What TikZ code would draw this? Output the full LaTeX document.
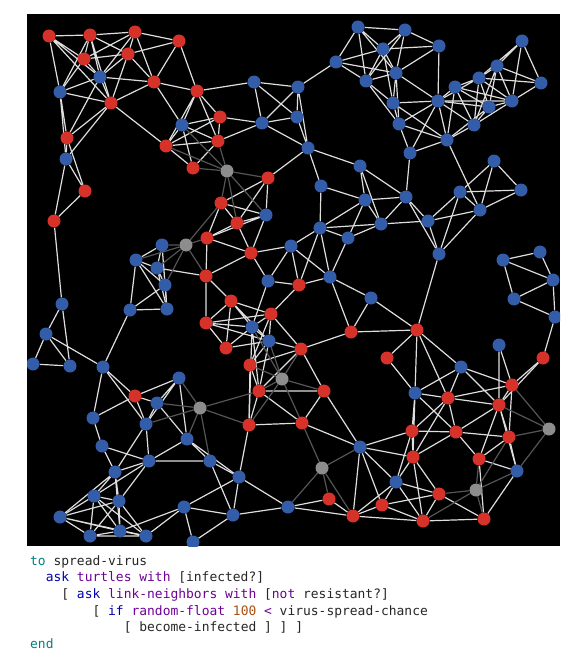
\documentclass[tikz,border=0pt]{standalone}
\usepackage{fontspec}
\newfontfamily\codefont{DejaVu Sans Mono}
\usetikzlibrary{backgrounds}
\definecolor{netred}{RGB}{215,50,41}
\definecolor{netblue}{RGB}{52,93,169}
\definecolor{netgray}{RGB}{141,141,141}
\definecolor{linkcol}{RGB}{222,222,222}
\definecolor{reslinkcol}{RGB}{85,85,85}
\definecolor{nlteal}{RGB}{0,128,128}
\definecolor{nlblue}{RGB}{0,0,170}
\definecolor{nlpurple}{RGB}{110,0,150}
\definecolor{nlorange}{RGB}{170,80,20}
\newcommand{\nlkey}[1]{\textcolor{nlteal}{#1}}
\newcommand{\nlcmd}[1]{\textcolor{nlblue}{#1}}
\newcommand{\nlrep}[1]{\textcolor{nlpurple}{#1}}
\newcommand{\nlnum}[1]{\textcolor{nlorange}{#1}}
\begin{document}
\begin{tikzpicture}[x=1bp,y=-1bp,
		turtle/.style={circle,inner sep=0,minimum size=13bp},
		infected/.style={turtle,fill=netred},
		susceptible/.style={turtle,fill=netblue},
		resistant/.style={turtle,fill=netgray},
		netlink/.style={draw=linkcol,line width=1.2bp},
		reslink/.style={draw=reslinkcol,line width=1.2bp},
		code/.style={anchor=base west,inner sep=0,text=black!85,font=\codefont\fontsize{13}{16}\selectfont}]
		\useasboundingbox (0, 0) rectangle (571, 661);
		\begin{scope}
		\clip (27, 14) rectangle (560, 546);
		% turtles, top left
		\node (A1) at (49, 36) [infected] {};
		\node (A2) at (90, 35) [infected] {};
		\node (A3) at (135, 32) [infected] {};
		\node (A4) at (179, 41) [infected] {};
		\node (A5) at (84, 59) [infected] {};
		\node (A6) at (128, 54) [infected] {};
		\node (A7) at (100, 77) [susceptible] {};
		\node (A8) at (60, 92) [susceptible] {};
		\node (A9) at (154, 82) [infected] {};
		\node (A10) at (197, 91) [infected] {};
		\node (A11) at (111, 103) [infected] {};
		\node (A12) at (67, 138) [infected] {};
		\node (A13) at (66, 159) [susceptible] {};
		\node (A14) at (85, 191) [infected] {};
		\node (A15) at (54, 221) [infected] {};
		\node (A16) at (182, 125) [susceptible] {};
		\node (A17) at (220, 117) [infected] {};
		\node (A18) at (218, 141) [infected] {};
		\node (A19) at (166, 146) [infected] {};
		\node (A20) at (193, 168) [infected] {};
		\node (A21) at (227, 171) [resistant] {};
		\node (A22) at (268, 178) [infected] {};
		\node (A23) at (221, 203) [infected] {};
		\node (A24) at (266, 215) [susceptible] {};
		\node (A25) at (237, 223) [infected] {};
		\node (A26) at (207, 238) [infected] {};
		\node (A27) at (251, 253) [infected] {};
		\node (A28) at (186, 245) [resistant] {};
		\node (A29) at (162, 245) [susceptible] {};
		\node (A30) at (136, 260) [susceptible] {};
		\node (A31) at (157, 268) [susceptible] {};
		\node (A32) at (165, 285) [susceptible] {};
		\node (A33) at (206, 276) [infected] {};
		\node (A34) at (291, 246) [susceptible] {};
		\node (A35) at (268, 281) [susceptible] {};
		\node (A36) at (254, 82) [susceptible] {};
		\node (A37) at (262, 123) [susceptible] {};
		\node (A38) at (298, 87) [susceptible] {};
		\node (A39) at (297, 117) [susceptible] {};
		\node (A40) at (308, 148) [susceptible] {};
		% turtles, top right
		\node (B1) at (358, 27) [susceptible] {};
		\node (B2) at (405, 30) [susceptible] {};
		\node (B3) at (383, 49) [susceptible] {};
		\node (B4) at (439, 46) [susceptible] {};
		\node (B5) at (336, 62) [susceptible] {};
		\node (B6) at (396, 73) [susceptible] {};
		\node (B7) at (366, 81) [susceptible] {};
		\node (B8) at (522, 41) [susceptible] {};
		\node (B9) at (497, 66) [susceptible] {};
		\node (B10) at (479, 78) [susceptible] {};
		\node (B11) at (455, 87) [susceptible] {};
		\node (B12) at (541, 83) [susceptible] {};
		\node (B13) at (512, 101) [susceptible] {};
		\node (B14) at (489, 107) [susceptible] {};
		\node (B15) at (438, 101) [susceptible] {};
		\node (B16) at (393, 103) [susceptible] {};
		\node (B17) at (399, 124) [susceptible] {};
		\node (B18) at (474, 125) [susceptible] {};
		\node (B19) at (447, 140) [susceptible] {};
		\node (B20) at (410, 153) [susceptible] {};
		\node (B21) at (360, 166) [susceptible] {};
		\node (B22) at (494, 161) [susceptible] {};
		\node (B23) at (321, 186) [susceptible] {};
		\node (B24) at (521, 190) [susceptible] {};
		\node (B25) at (460, 192) [susceptible] {};
		\node (B26) at (365, 200) [susceptible] {};
		\node (B27) at (406, 197) [susceptible] {};
		\node (B28) at (480, 210) [susceptible] {};
		\node (B29) at (381, 224) [susceptible] {};
		\node (B30) at (428, 221) [susceptible] {};
		\node (B31) at (320, 228) [susceptible] {};
		\node (B32) at (348, 238) [susceptible] {};
		\node (B33) at (439, 254) [susceptible] {};
		\node (B34) at (330, 277) [susceptible] {};
		\node (B35) at (503, 260) [susceptible] {};
		\node (B36) at (540, 252) [susceptible] {};
		\node (B37) at (553, 280) [susceptible] {};
		% turtles, bottom left
		\node (C1) at (62, 304) [susceptible] {};
		\node (C2) at (46, 334) [susceptible] {};
		\node (C3) at (33, 364) [susceptible] {};
		\node (C4) at (70, 366) [susceptible] {};
		\node (C5) at (130, 310) [susceptible] {};
		\node (C6) at (167, 309) [susceptible] {};
		\node (C7) at (103, 367) [susceptible] {};
		\node (C8) at (179, 378) [susceptible] {};
		\node (C9) at (135, 396) [infected] {};
		\node (C10) at (157, 403) [susceptible] {};
		\node (C11) at (200, 408) [resistant] {};
		\node (C12) at (146, 424) [susceptible] {};
		\node (C13) at (93, 418) [susceptible] {};
		\node (C14) at (187, 439) [susceptible] {};
		\node (C15) at (102, 446) [susceptible] {};
		\node (C16) at (149, 461) [susceptible] {};
		\node (C17) at (115, 472) [susceptible] {};
		\node (C18) at (210, 461) [susceptible] {};
		\node (C19) at (239, 477) [susceptible] {};
		\node (C20) at (94, 496) [susceptible] {};
		\node (C21) at (119, 501) [susceptible] {};
		\node (C22) at (60, 517) [susceptible] {};
		\node (C23) at (90, 536) [susceptible] {};
		\node (C24) at (120, 531) [susceptible] {};
		\node (C25) at (146, 536) [susceptible] {};
		\node (C26) at (184, 507) [susceptible] {};
		\node (C27) at (233, 515) [susceptible] {};
		\node (C28) at (288, 507) [susceptible] {};
		\node (C29) at (193, 542) [susceptible] {};
		% turtles, middle
		\node (D1) at (231, 301) [infected] {};
		\node (D2) at (271, 314) [infected] {};
		\node (D3) at (206, 323) [infected] {};
		\node (D4) at (252, 327) [susceptible] {};
		\node (D5) at (269, 341) [susceptible] {};
		\node (D6) at (226, 348) [infected] {};
		\node (D7) at (250, 365) [infected] {};
		\node (D8) at (259, 391) [infected] {};
		\node (D9) at (282, 379) [resistant] {};
		\node (D10) at (249, 425) [infected] {};
		\node (D11) at (299, 285) [infected] {};
		\node (D12) at (301, 349) [infected] {};
		\node (D13) at (324, 391) [infected] {};
		\node (D14) at (302, 423) [infected] {};
		% turtles, bottom right
		\node (E1) at (351, 332) [infected] {};
		\node (E2) at (371, 298) [susceptible] {};
		\node (E3) at (417, 330) [infected] {};
		\node (E4) at (387, 358) [infected] {};
		\node (E5) at (415, 393) [susceptible] {};
		\node (E6) at (448, 398) [infected] {};
		\node (E7) at (461, 367) [susceptible] {};
		\node (E8) at (512, 385) [infected] {};
		\node (E9) at (499, 405) [infected] {};
		\node (E10) at (543, 358) [infected] {};
		\node (E11) at (514, 299) [susceptible] {};
		\node (E12) at (555, 317) [susceptible] {};
		\node (E13) at (499, 345) [susceptible] {};
		\node (E14) at (412, 431) [infected] {};
		\node (E15) at (456, 432) [infected] {};
		\node (E16) at (509, 437) [infected] {};
		\node (E17) at (549, 429) [resistant] {};
		\node (E18) at (413, 457) [infected] {};
		\node (E19) at (479, 459) [infected] {};
		\node (E20) at (517, 471) [susceptible] {};
		\node (E21) at (360, 447) [susceptible] {};
		\node (E22) at (322, 468) [resistant] {};
		\node (E23) at (396, 482) [susceptible] {};
		\node (E24) at (439, 494) [infected] {};
		\node (E25) at (476, 490) [resistant] {};
		\node (E26) at (329, 499) [infected] {};
		\node (E27) at (382, 505) [infected] {};
		\node (E28) at (353, 516) [infected] {};
		\node (E29) at (423, 521) [infected] {};
		\node (E30) at (484, 519) [infected] {};
		\end{scope}
		\begin{scope}[on background layer]
		\fill[black] (27, 14) rectangle (560, 546);
		% links
		\draw[netlink] (A1)--(A2) (A1)--(A7) (A1)--(A11) (A1)--(A8) (A1)--(A5);
		\draw[netlink] (A2)--(A3) (A2)--(A5) (A2)--(A6) (A2)--(A7) (A2)--(A11) (A2)--(A8);
		\draw[netlink] (A3)--(A4) (A3)--(A5) (A3)--(A6) (A3)--(A7) (A3)--(A9);
		\draw[netlink] (A4)--(A6) (A4)--(A9) (A4)--(A10);
		\draw[netlink] (A5)--(A6) (A5)--(A7) (A5)--(A8);
		\draw[netlink] (A6)--(A9) (A6)--(A11) (A6)--(A7);
		\draw[netlink] (A7)--(A8) (A7)--(A9) (A7)--(A11) (A7)--(A12);
		\draw[netlink] (A8)--(A11) (A8)--(A12) (A8)--(A13);
		\draw[netlink] (A9)--(A10) (A9)--(A11) (A9)--(A16);
		\draw[netlink] (A10)--(A16) (A10)--(A19) (A10)--(A17) (A10)--(A18) (A10)--(A36);
		\draw[netlink] (A11)--(A19) (A11)--(A12) (A11)--(A13);
		\draw[netlink] (A12)--(A13) (A12)--(A14) (A13)--(A14) (A13)--(A15) (A14)--(A15) (A15)--(C1);
		\draw[netlink] (A16)--(A17) (A16)--(A18) (A16)--(A19) (A16)--(A20);
		\draw[netlink] (A17)--(A37) (A17)--(A18) (A17)--(A19);
		\draw[netlink] (A18)--(A19) (A18)--(A20) (A18)--(A37) (A19)--(A20);
		\draw[netlink] (A22)--(A40) (A22)--(A23) (A22)--(A24) (A22)--(A25);
		\draw[netlink] (A23)--(A24) (A23)--(A25) (A23)--(A26);
		\draw[netlink] (A24)--(A25) (A24)--(A26) (A24)--(A27);
		\draw[netlink] (A25)--(A26) (A25)--(A27);
		\draw[netlink] (A26)--(A27) (A26)--(A33);
		\draw[netlink] (A27)--(A33) (A27)--(A34) (A27)--(A35);
		\draw[netlink] (A29)--(A30) (A29)--(A31) (A29)--(A32) (A29)--(C6);
		\draw[netlink] (A30)--(A31) (A30)--(A32) (A30)--(C5) (A30)--(C6);
		\draw[netlink] (A31)--(A32) (A31)--(A33) (A31)--(C6);
		\draw[netlink] (A32)--(C5) (A32)--(C6);
		\draw[netlink] (A33)--(D1) (A33)--(D3);
		\draw[netlink] (A34)--(B31) (A34)--(D11) (A34)--(B34) (A34)--(A35);
		\draw[netlink] (A35)--(D11) (A35)--(D4);
		\draw[netlink] (A36)--(A37) (A36)--(A38) (A36)--(A39);
		\draw[netlink] (A37)--(A38) (A37)--(A39) (A37)--(A40);
		\draw[netlink] (A38)--(A39) (A38)--(A40) (A38)--(B5) (A39)--(A40);
		\draw[netlink] (A40)--(B21) (A40)--(B23);
		\draw[netlink] (B1)--(B2) (B1)--(B3) (B1)--(B5) (B1)--(B6) (B1)--(B7);
		\draw[netlink] (B2)--(B3) (B2)--(B4) (B2)--(B6) (B2)--(B7);
		\draw[netlink] (B3)--(B4) (B3)--(B5) (B3)--(B6) (B3)--(B7) (B3)--(B16);
		\draw[netlink] (B4)--(B6) (B4)--(B15);
		\draw[netlink] (B5)--(B6) (B5)--(B7);
		\draw[netlink] (B6)--(B7) (B6)--(B16) (B6)--(B17) (B6)--(B15);
		\draw[netlink] (B7)--(B16) (B7)--(B17);
		\draw[netlink] (B8)--(B9) (B8)--(B10) (B8)--(B12) (B8)--(B13);
		\draw[netlink] (B9)--(B10) (B9)--(B12) (B9)--(B13) (B9)--(B14) (B9)--(B18);
		\draw[netlink] (B10)--(B11) (B10)--(B15) (B10)--(B12) (B10)--(B14) (B10)--(B18) (B10)--(B13);
		\draw[netlink] (B11)--(B15) (B11)--(B18) (B11)--(B13) (B11)--(B14) (B11)--(B19);
		\draw[netlink] (B12)--(B13) (B13)--(B14) (B13)--(B15) (B13)--(B18);
		\draw[netlink] (B14)--(B15) (B14)--(B18) (B14)--(B19);
		\draw[netlink] (B15)--(B16) (B15)--(B17) (B15)--(B18) (B15)--(B19) (B15)--(B20);
		\draw[netlink] (B16)--(B17) (B16)--(B19) (B17)--(B19) (B17)--(B20) (B18)--(B19);
		\draw[netlink] (B19)--(B20) (B19)--(B28) (B20)--(B27);
		\draw[netlink] (B21)--(B26) (B21)--(B27) (B21)--(B29);
		\draw[netlink] (B22)--(B24) (B22)--(B25) (B22)--(B28);
		\draw[netlink] (B23)--(B26) (B23)--(B31);
		\draw[netlink] (B24)--(B25) (B24)--(B28);
		\draw[netlink] (B25)--(B28) (B25)--(B30) (B25)--(B33);
		\draw[netlink] (B26)--(B27) (B26)--(B29) (B26)--(B32) (B26)--(B31);
		\draw[netlink] (B27)--(B29) (B27)--(B30) (B27)--(B33);
		\draw[netlink] (B28)--(B30) (B28)--(B33);
		\draw[netlink] (B29)--(B30) (B29)--(B31) (B29)--(B32) (B30)--(B33);
		\draw[netlink] (B31)--(B32) (B31)--(B34) (B31)--(D11) (B32)--(B34);
		\draw[netlink] (B33)--(E3) (B34)--(D11) (B34)--(E2) (B34)--(E1);
		\draw[netlink] (B35)--(B36) (B35)--(B37) (B35)--(E11) (B36)--(B37);
		\draw[netlink] (B37)--(E11) (B37)--(E12);
		\draw[netlink] (C1)--(C2) (C1)--(C4) (C2)--(C3) (C2)--(C4) (C2)--(C7) (C3)--(C4);
		\draw[netlink] (C5)--(C6) (C5)--(C7);
		\draw[netlink] (C7)--(C13) (C7)--(C9) (C7)--(C12);
		\draw[netlink] (C8)--(C9) (C8)--(C10) (C8)--(C14) (C8)--(C12);
		\draw[netlink] (C9)--(C10) (C9)--(C12) (C9)--(C13);
		\draw[netlink] (C10)--(C14) (C10)--(C12);
		\draw[netlink] (C12)--(C16) (C12)--(C17) (C13)--(C15);
		\draw[netlink] (C14)--(C16) (C14)--(C18) (C14)--(C19);
		\draw[netlink] (C15)--(C16) (C15)--(C17);
		\draw[netlink] (C16)--(C18) (C16)--(C17) (C16)--(C20) (C16)--(C21);
		\draw[netlink] (C17)--(C20) (C17)--(C21) (C17)--(C22) (C17)--(C24);
		\draw[netlink] (C18)--(C19) (C18)--(C27);
		\draw[netlink] (C19)--(C27) (C19)--(C28) (C19)--(C26) (C19)--(D10);
		\draw[netlink] (C20)--(C21) (C20)--(C22) (C20)--(C23) (C20)--(C24) (C20)--(C25);
		\draw[netlink] (C21)--(C23) (C21)--(C24) (C21)--(C25) (C21)--(C22);
		\draw[netlink] (C22)--(C23) (C22)--(C24) (C22)--(C25);
		\draw[netlink] (C23)--(C24) (C23)--(C25) (C24)--(C25) (C24)--(C26) (C25)--(C26);
		\draw[netlink] (C26)--(C27) (C26)--(C29) (C27)--(C28) (C27)--(C29);
		\draw[netlink] (C28)--(E26) (C28)--(E28);
		\draw[netlink] (D1)--(D2) (D1)--(D3) (D1)--(D4) (D1)--(D6) (D1)--(D5);
		\draw[netlink] (D2)--(D11) (D2)--(D4) (D2)--(D5) (D2)--(D12) (D2)--(D7) (D2)--(D3);
		\draw[netlink] (D3)--(D4) (D3)--(D6) (D3)--(D5);
		\draw[netlink] (D4)--(D5) (D4)--(D6) (D4)--(D8) (D4)--(D10);
		\draw[netlink] (D5)--(D12) (D5)--(D7) (D5)--(D8) (D5)--(D6);
		\draw[netlink] (D7)--(D12) (D7)--(D10) (D7)--(D8);
		\draw[netlink] (D8)--(D12) (D8)--(D13) (D8)--(D14) (D8)--(D10) (D10)--(D14);
		\draw[netlink] (D12)--(D13) (D12)--(E1) (D13)--(D14) (D13)--(E21) (D14)--(E21);
		\draw[netlink] (E1)--(E2) (E1)--(E3) (E2)--(E3);
		\draw[netlink] (E3)--(E4) (E3)--(E5) (E3)--(E7) (E3)--(E6) (E4)--(E5);
		\draw[netlink] (E5)--(E7) (E5)--(E6) (E5)--(E14) (E5)--(E15) (E5)--(E18);
		\draw[netlink] (E6)--(E7) (E6)--(E8) (E6)--(E14) (E6)--(E15) (E6)--(E18) (E6)--(E9);
		\draw[netlink] (E7)--(E8) (E7)--(E9);
		\draw[netlink] (E8)--(E9) (E8)--(E10) (E8)--(E13) (E8)--(E16);
		\draw[netlink] (E9)--(E13) (E9)--(E10) (E9)--(E15) (E9)--(E19) (E9)--(E20) (E9)--(E16);
		\draw[netlink] (E10)--(E12) (E11)--(E12);
		\draw[netlink] (E14)--(E15) (E14)--(E21) (E14)--(E18) (E14)--(E23);
		\draw[netlink] (E15)--(E16) (E15)--(E19) (E15)--(E18);
		\draw[netlink] (E16)--(E19) (E16)--(E20);
		\draw[netlink] (E18)--(E23) (E18)--(E24) (E18)--(E29) (E18)--(E21);
		\draw[netlink] (E19)--(E20) (E19)--(E30) (E20)--(E30);
		\draw[netlink] (E21)--(E23) (E21)--(E28) (E21)--(E27);
		\draw[netlink] (E23)--(E24) (E23)--(E27) (E23)--(E28) (E23)--(E29);
		\draw[netlink] (E24)--(E27) (E24)--(E29) (E24)--(E30);
		\draw[netlink] (E26)--(E28) (E27)--(E28) (E27)--(E29) (E28)--(E29) (E29)--(E30);
		% links of resistant turtles
		\draw[reslink] (A21)--(A19) (A21)--(A18) (A21)--(A20) (A21)--(A16) (A21)--(A22) (A21)--(A23) (A21)--(A25) (A21)--(A24);
		\draw[reslink] (A28)--(A23) (A28)--(A26) (A28)--(A29) (A28)--(A30) (A28)--(A31) (A28)--(A32) (A28)--(A33);
		\draw[reslink] (C11)--(C8) (C11)--(C10) (C11)--(C12) (C11)--(C14) (C11)--(C18) (C11)--(D8) (C11)--(D10);
		\draw[reslink] (D9)--(D4) (D9)--(D5) (D9)--(D7) (D9)--(D8) (D9)--(D12) (D9)--(D13) (D9)--(D14) (D9)--(D10);
		\draw[reslink] (E17)--(E8) (E17)--(E9) (E17)--(E16) (E17)--(E20);
		\draw[reslink] (E22)--(D14) (E22)--(E21) (E22)--(E26) (E22)--(E28) (E22)--(C28);
		\draw[reslink] (E25)--(E16) (E25)--(E19) (E25)--(E20) (E25)--(E24) (E25)--(E29) (E25)--(E30);
		\end{scope}
		% procedure
		\node (codeA) at (30, 565) [code] {\nlkey{to} spread-virus};
		\node (codeB) at (45.6, 581.5) [code] {\nlcmd{ask} \nlrep{turtles} \nlrep{with} [infected?]};
		\node (codeC) at (61.2, 598) [code] {[ \nlcmd{ask} \nlrep{link-neighbors} \nlrep{with} [\nlrep{not} resistant?]};
		\node (codeD) at (92.4, 615) [code] {[ \nlcmd{if} \nlrep{random-float} \nlnum{100} \nlrep{<} virus-spread-chance};
		\node (codeE) at (123.6, 631.5) [code] {[ become-infected ] ] ]};
		\node (codeF) at (30, 648) [code] {\nlkey{end}};
	\end{tikzpicture}
\end{document}
